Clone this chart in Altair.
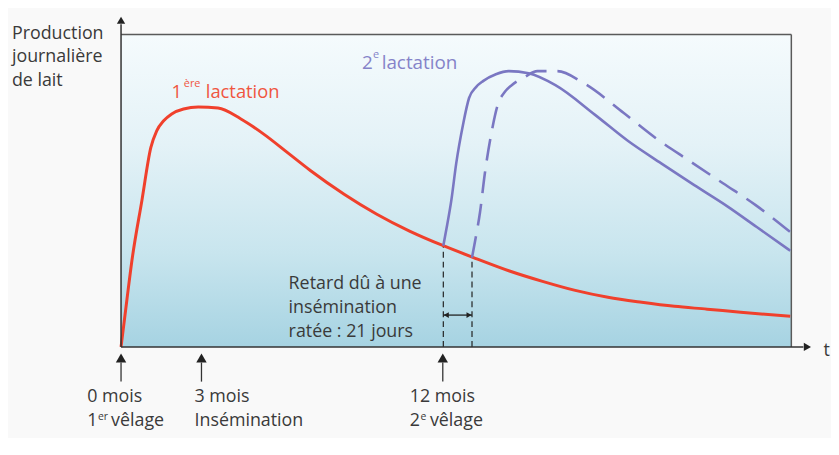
import altair as alt
import pandas as pd

# ---- data (x: months since 1st calving, y: daily milk production, relative units 0-100)
red_month = [0, 0.22, 0.41, 0.78, 1.11, 1.33, 1.59, 1.89, 2.33, 2.88, 3.62, 4.47, 5.36, 6.21,
             7.06, 8.32, 9.54, 10.76, 12.02, 13.24, 14.46, 15.72, 16.94, 18.16, 19.42, 20.64,
             21.86, 23.11, 24.96]
red_prod = [0, 15.2, 27.9, 47.0, 63.8, 69.2, 72.4, 74.6, 76.2, 76.8, 76.5, 73.0, 67.9, 62.2,
            56.5, 48.9, 42.5, 37.1, 32.4, 28.3, 24.4, 21.0, 18.1, 15.9, 14.3, 13.0,
            12.1, 11.1, 9.8]

solid_month = [12.02, 12.13, 12.32, 12.50, 12.76, 12.98, 13.24, 13.50, 13.98, 14.46, 15.20,
               16.20, 17.68, 18.90, 20.16, 21.38, 22.60, 23.71, 24.96]
solid_prod = [32.4, 37.5, 47.0, 58.7, 71.4, 79.7, 83.2, 85.1, 87.3, 88.3, 87.6,
              83.8, 74.3, 66.0, 58.7, 51.8, 45.1, 38.4, 30.8]

dash_month = [13.09, 13.20, 13.39, 13.57, 13.83, 14.05, 14.31, 14.57, 15.05, 15.53, 16.27,
              17.27, 18.75, 19.97, 21.23, 22.45, 23.67, 24.96]
dash_prod = [28.6, 33.7, 43.2, 55.6, 69.2, 77.5, 81.6, 83.8, 86.4, 88.3, 88.3,
             84.4, 74.9, 66.7, 59.4, 52.4, 45.4, 36.8]

event_month = [0, 3, 12]
delay_month = [12.02, 13.09]
delay_prod = [32.4, 28.6]

FONT = "Open Sans"
GREY = "#3a3a3a"
RED = "#f0402c"
RED_T = "#f0553f"
PURPLE = "#7a77c2"
PURPLE_T = "#8583c9"

X = alt.Scale(domain=[0, 25], nice=False, zero=False)
Y = alt.Scale(domain=[0, 100], nice=False, zero=False)


def xe(f):
    return alt.X(f, type="quantitative", scale=X, axis=None)


def ye(f):
    return alt.Y(f, type="quantitative", scale=Y, axis=None)


# background gradient panel
bg = alt.Chart(pd.DataFrame({"x0": [0], "x1": [25], "y0": [0], "y1": [100]})).mark_rect(
    fill=alt.Gradient(gradient="linear", x1=0, x2=0, y1=0, y2=1,
                      stops=[alt.GradientStop(color="#f5fbfd", offset=0),
                             alt.GradientStop(color="#e4f2f7", offset=0.35),
                             alt.GradientStop(color="#c8e5ee", offset=0.7),
                             alt.GradientStop(color="#a6d3e2", offset=1)])
).encode(x=xe("x0"), x2="x1", y=ye("y0"), y2="y1")

# frame (top and right) and axes (left and bottom)
frame = pd.DataFrame({"x0": [0, 25], "x1": [25, 25], "y0": [100, 0], "y1": [100, 100]})
frame_l = alt.Chart(frame).mark_rule(color="#5a5a5a", strokeWidth=1.5).encode(
    x=xe("x0"), x2="x1", y=ye("y0"), y2="y1")

axes = pd.DataFrame({"x0": [0, 0], "x1": [0, 25.45], "y0": [0, 0], "y1": [103.3, 0]})
axes_l = alt.Chart(axes).mark_rule(color="#333333", strokeWidth=1.5).encode(
    x=xe("x0"), x2="x1", y=ye("y0"), y2="y1")

arrow_up = alt.Chart(pd.DataFrame({"x": [0], "y": [104.6]})).mark_point(
    shape="triangle-up", filled=True, color="#222222", size=70, opacity=1).encode(
    x=xe("x"), y=ye("y"))
arrow_right = alt.Chart(pd.DataFrame({"x": [25.6], "y": [0]})).mark_point(
    shape="triangle-right", filled=True, color="#222222", size=70, opacity=1).encode(
    x=xe("x"), y=ye("y"))

# event arrows under the time axis
ev = pd.DataFrame({"x": event_month, "y": [-3.5] * 3, "ya": [-5.0] * 3, "yb": [-11.1] * 3})
ev_heads = alt.Chart(ev).mark_point(shape="triangle-up", filled=True, color="#222222",
                                    size=110, opacity=1).encode(x=xe("x"), y=ye("y"))
ev_stems = alt.Chart(ev).mark_rule(color="#333333", strokeWidth=1.3).encode(
    x=xe("x"), y=ye("ya"), y2="yb")

# curves
red_line = alt.Chart(pd.DataFrame({"m": red_month, "p": red_prod})).mark_line(
    color=RED, strokeWidth=3, interpolate="monotone").encode(x=xe("m"), y=ye("p"))
solid_line = alt.Chart(pd.DataFrame({"m": solid_month, "p": solid_prod})).mark_line(
    color=PURPLE, strokeWidth=2.6, interpolate="monotone").encode(x=xe("m"), y=ye("p"))
dash_line = alt.Chart(pd.DataFrame({"m": dash_month, "p": dash_prod})).mark_line(
    color=PURPLE, strokeWidth=2.6, strokeDash=[22, 11], interpolate="monotone").encode(
    x=xe("m"), y=ye("p"))

# delay markers
delay = pd.DataFrame({"x": delay_month, "y0": [0, 0], "y1": delay_prod})
delay_l = alt.Chart(delay).mark_rule(color="#222222", strokeWidth=1.2, strokeDash=[6, 4]).encode(
    x=xe("x"), y=ye("y0"), y2="y1")
dbl = pd.DataFrame({"x0": [delay_month[0]], "x1": [delay_month[1]], "y": [10.2]})
dbl_l = alt.Chart(dbl).mark_rule(color="#222222", strokeWidth=1.3).encode(
    x=xe("x0"), x2="x1", y=ye("y"))
head_l = alt.Chart(pd.DataFrame({"x": [delay_month[0]], "y": [10.2]})).mark_point(
    shape="triangle-left", filled=True, color="#222222", size=35, opacity=1, xOffset=3).encode(
    x=xe("x"), y=ye("y"))
head_r = alt.Chart(pd.DataFrame({"x": [delay_month[1]], "y": [10.2]})).mark_point(
    shape="triangle-right", filled=True, color="#222222", size=35, opacity=1, xOffset=-3).encode(
    x=xe("x"), y=ye("y"))


def texts(df, size, color):
    return alt.Chart(df).mark_text(font=FONT, fontSize=size, color=color, align="left",
                                   baseline="alphabetic").encode(
        x=xe("x"), y=ye("y"), text="t:N")


grey_main = pd.DataFrame({
    "x": [-4.07, -4.07, -4.07, 6.25, 6.25, 6.25,
          -1.26, -1.26, -0.37, 2.74, 2.74, 10.77, 10.77, 11.52, 26.2],
    "y": [98.73, 91.11, 83.49, 18.57, 10.95, 3.33,
          -17.5, -25.4, -25.4, -17.5, -25.4, -17.5, -25.4, -25.4, -2.9],
    "t": ["Production", "journalière", "de lait", "Retard dû à une", "insémination",
          "ratée : 21 jours", "0 mois", "1", "vêlage", "3 mois", "Insémination",
          "12 mois", "2", "vêlage", "t"],
})
grey_sup = pd.DataFrame({"x": [-0.86, 11.17], "y": [-23.3, -23.3], "t": ["er", "e"]})

red_main = pd.DataFrame({"x": [1.886, 3.16], "y": [79.7, 79.7], "t": ["1", "lactation"]})
red_sup = pd.DataFrame({"x": [2.34], "y": [83.3], "t": ["ère"]})
pur_main = pd.DataFrame({"x": [8.99, 9.72], "y": [89.05, 89.05], "t": ["2", "lactation"]})
pur_sup = pd.DataFrame({"x": [9.40], "y": [92.4], "t": ["e"]})

chart = alt.layer(
    bg, frame_l, delay_l, dbl_l, head_l, head_r,
    red_line, solid_line, dash_line,
    axes_l, arrow_up, arrow_right, ev_stems, ev_heads,
    texts(grey_main, 18, GREY), texts(grey_sup, 10.5, GREY),
    texts(red_main, 18.5, RED_T), texts(red_sup, 11, RED_T),
    texts(pur_main, 19, PURPLE_T), texts(pur_sup, 11, PURPLE_T),
).properties(
    width=676, height=315,
    padding={"left": 114, "top": 25, "right": 40, "bottom": 90},
    autosize=alt.AutoSizeParams(type="none"),
    background="#f9f9f9",
).configure_view(stroke="transparent")

chart.save("out.html", embed_options={"renderer": "svg", "actions": False})
